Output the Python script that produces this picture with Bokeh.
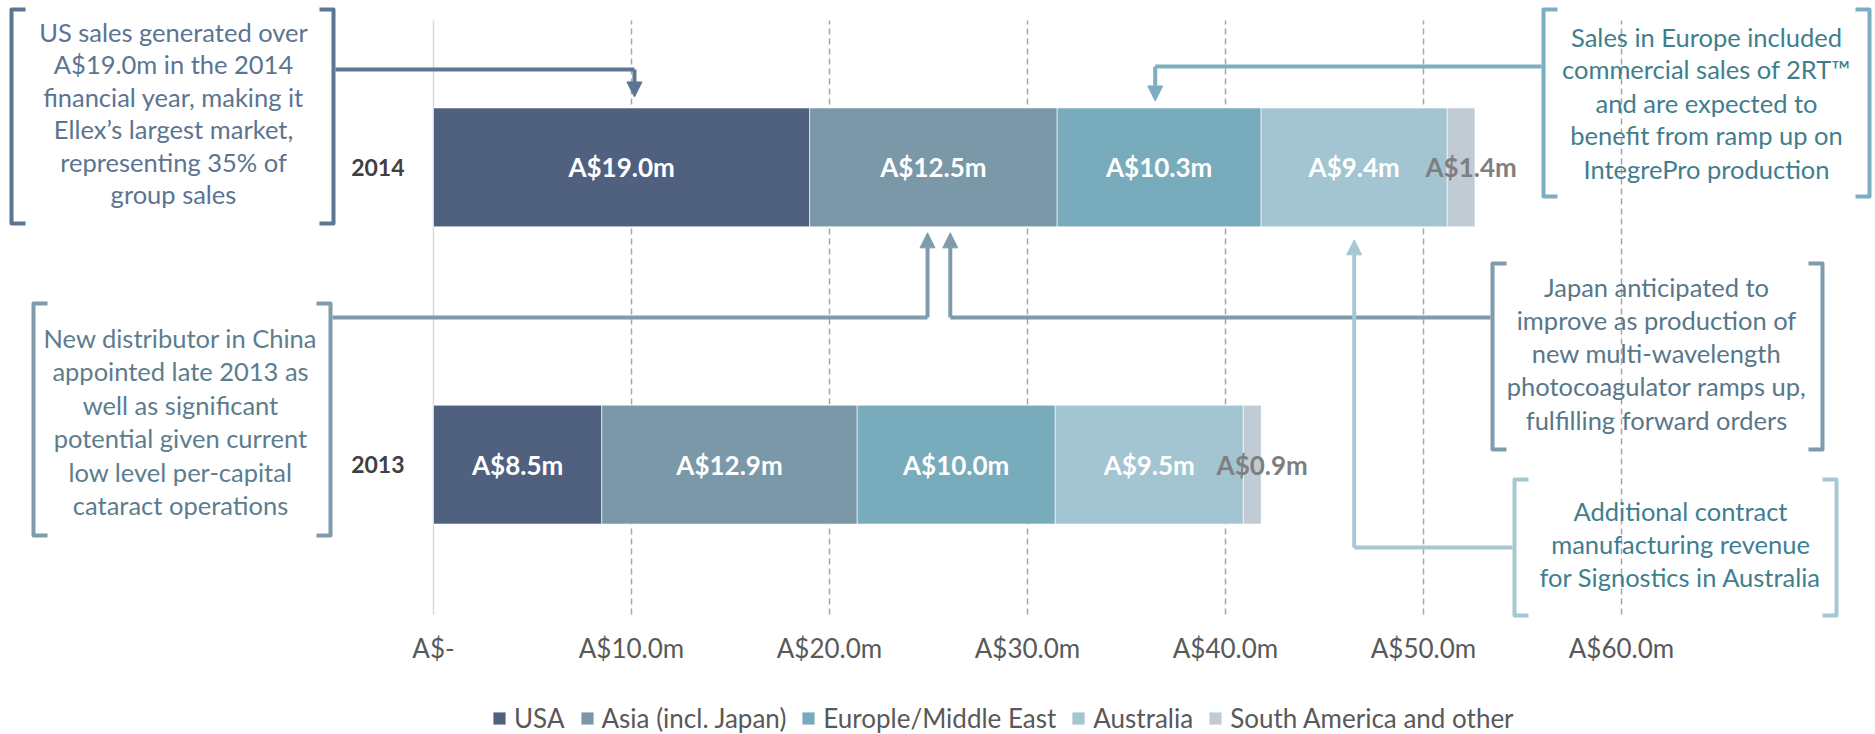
import numpy as np
from bokeh.plotting import figure
from bokeh.layouts import column
from bokeh.models import (ColumnDataSource, FactorRange, Range1d, FixedTicker,
                          Legend, LegendItem, Arrow, NormalHead)
from bokeh.core.properties import value
from bokeh.embed import file_html
from bokeh.resources import INLINE

# ---------------- data ----------------
years = ["2013", "2014"]
regions = ["USA", "Asia (incl. Japan)", "Europle/Middle East", "Australia",
           "South America and other"]
usa = [8.5, 19.0]
asia = [12.9, 12.5]
europe = [10.0, 10.3]
australia = [9.5, 9.4]
south_america = [0.9, 1.4]
region_colors = ["#506180", "#7B98A9", "#78ABBC", "#A3C5D1", "#C0CBD4"]
tick_values = [0, 10, 20, 30, 40, 50, 60]
tick_labels = ["A$-", "A$10.0m", "A$20.0m", "A$30.0m", "A$40.0m", "A$50.0m", "A$60.0m"]

note_us = ["US sales generated over", "A$19.0m in the 2014", "financial year, making it",
           "Ellex\u2019s largest market,", "representing 35% of", "group sales"]
note_europe = ["Sales in Europe included", "commercial sales of 2RT\u2122",
               "and are expected to", "benefit from ramp up on", "IntegrePro production"]
note_china = ["New distributor in China", "appointed late 2013 as", "well as significant",
              "potential given current", "low level per-capital", "cataract operations"]
note_japan = ["Japan anticipated to", "improve as production of", "new multi-wavelength",
              "photocoagulator ramps up,", "fulfilling forward orders"]
note_australia = ["Additional contract", "manufacturing revenue",
                  "for Signostics in Australia"]

# ---------------- layout ----------------
W = 1875
PAD = 0.0616
FRAME_H = 631
MAIN_BOTTOM = 63
LEG_H = 40
Y_END = 2 + PAD
Y_SCALE = FRAME_H / (2 + 2 * PAD)
X0_PX = 433.0
X_SCALE = 19.8
x_start = -X0_PX / X_SCALE
x_end = x_start + W / X_SCALE
FONT = "Lato"


def sx(px):
    return (px - X0_PX) / X_SCALE


def sy(py):
    return Y_END - py / Y_SCALE


p = figure(frame_width=W, frame_height=FRAME_H,
           y_range=FactorRange(factors=years, range_padding=PAD, range_padding_units="absolute"),
           x_range=Range1d(x_start, x_end),
           output_backend="svg", toolbar_location=None, y_axis_location=None,
           min_border_left=0, min_border_right=0, min_border_top=0,
           min_border_bottom=MAIN_BOTTOM)
p.outline_line_color = None
p.xgrid.visible = False
p.ygrid.visible = False

# gridlines
g_top, g_bot = sy(20), sy(614)
p.segment(x0=tick_values[1:], y0=[g_bot] * 6, x1=tick_values[1:], y1=[g_top] * 6,
          line_color="#A6A6A6", line_width=1.5, line_dash="6 4")
p.segment(x0=tick_values[:1], y0=[g_bot], x1=tick_values[:1], y1=[g_top],
          line_color="#D9D9D9", line_width=1.5)

# bars
source = ColumnDataSource(dict(years=years, usa=usa, asia=asia, europe=europe,
                               australia=australia, south_america=south_america))
stackers = ["usa", "asia", "europe", "australia", "south_america"]
renderers = p.hbar_stack(stackers, y="years", height=0.4, fill_color=region_colors,
                         line_color="white", line_width=1, line_alpha=0.6, source=source)

# bar labels
arr = np.array([usa, asia, europe, australia, south_america])
mids = np.cumsum(arr, axis=0) - arr / 2
lx, ly, lt, lc, ldx = [], [], [], [], []
for i in range(arr.shape[0]):
    for j, yr in enumerate(years):
        lx.append(float(mids[i, j]))
        ly.append(yr)
        lt.append("A$%.1fm" % arr[i, j])
        lc.append("white" if i < 4 else "#7F7F7F")
        ldx.append(0 if i < 4 else 10)
lab_src = ColumnDataSource(dict(x=lx, y=ly, text=lt, color=lc, dx=ldx))
p.text(x="x", y="y", text="text", source=lab_src, text_color="color", x_offset="dx",
       text_font=value(FONT), text_font_style="bold", text_font_size="26px",
       text_align="center", text_baseline="middle")

# year labels
p.text(x=[0, 0], y=years, text=years, x_offset=-29, text_align="right",
       text_baseline="middle", text_font=value(FONT), text_font_style="bold",
       text_font_size="23px", text_color="#404040")


def bracket(left, top, right, bottom, color, serif=14):
    xs = [[sx(left + serif), sx(left), sx(left), sx(left + serif)],
          [sx(right - serif), sx(right), sx(right), sx(right - serif)]]
    ys = [[sy(top), sy(top), sy(bottom), sy(bottom)]] * 2
    p.multi_line(xs=xs, ys=ys, line_color=color, line_width=4, line_join="round")


def note(lines, cx, y0, dy, color):
    n = len(lines)
    p.text(x=[sx(cx)] * n, y=[sy(y0 + k * dy) for k in range(n)], text=lines,
           text_font=value(FONT), text_font_size="25.5px", text_color=color,
           text_align="center", text_baseline="middle")


def connector(x_from, y_px, x_data, tip_y, color):
    ys = sy(y_px)
    p.line(x=[sx(x_from), x_data], y=[ys, ys], line_color=color, line_width=4,
           line_join="round")
    p.add_layout(Arrow(end=NormalHead(size=15, fill_color=color, line_color=color, line_width=1),
                       x_start=x_data, y_start=ys, x_end=x_data, y_end=tip_y,
                       line_color=color, line_width=4))


c_us, t_us = "#5B7592", "#5B7491"
c_eu, t_eu = "#7BAFC0", "#3F7E8E"
c_cn, t_cn = "#7F9CAC", "#5C7D8E"
c_jp, t_jp = "#7F9CAC", "#587789"
c_au, t_au = "#A5C8D3", "#3F7E8E"

top_2014 = 1.5 + 0.2
bot_2014 = 1.5 - 0.2

bracket(11, 9, 333, 223, c_us)
note(note_us, 173, 31, 32.6, t_us)
connector(335, 69, 10.15, top_2014 + 11 / Y_SCALE, c_us)

bracket(1543, 9, 1869, 196, c_eu)
note(note_europe, 1706, 36, 33, t_eu)
connector(1541, 66, 36.45, top_2014 + 7 / Y_SCALE, c_eu)

bracket(33, 303, 330, 535, c_cn)
note(note_china, 180, 337, 33.5, t_cn)
connector(332, 317, 24.95, bot_2014 - 6 / Y_SCALE, c_cn)

bracket(1492, 263, 1822, 449, c_jp)
note(note_japan, 1656, 286, 33.3, t_jp)
connector(1490, 317, 26.1, bot_2014 - 6 / Y_SCALE, c_jp)

bracket(1514, 479, 1836, 615, c_au)
note(note_australia, 1680, 510, 33.3, t_au)
connector(1512, 547, 46.5, bot_2014 - 13 / Y_SCALE, c_au)

# x axis
ax = p.xaxis[0]
ax.ticker = FixedTicker(ticks=tick_values)
ax.major_label_overrides = {v: l for v, l in zip(tick_values, tick_labels)}
ax.axis_line_color = None
ax.major_tick_line_color = None
ax.minor_tick_line_color = None
ax.major_label_standoff = -6
ax.major_label_text_font = FONT
ax.major_label_text_font_size = "26px"
ax.major_label_text_color = "#595959"

# legend strip (a second figure under the chart); its swatch renderers sit off-view
lf = figure(frame_width=W, frame_height=LEG_H, x_range=Range1d(0, 1), y_range=Range1d(0, 1),
            output_backend="svg", toolbar_location=None, x_axis_location=None,
            y_axis_location=None, min_border=0)
lf.outline_line_color = None
lf.xgrid.visible = False
lf.ygrid.visible = False
swatch_src = ColumnDataSource(dict(y=[-10.0], left=[-10.0], right=[-9.0]))
leg_renderers = [lf.hbar(y="y", left="left", right="right", height=0.4, source=swatch_src,
                         fill_color=c, line_color="white", line_alpha=0.6)
                 for c in region_colors]
items = [LegendItem(label=name, renderers=[r]) for name, r in zip(regions, leg_renderers)]
legend = Legend(items=items, orientation="horizontal", location=(491, 0), margin=0,
                padding=0, spacing=14, label_standoff=7, glyph_width=16, glyph_height=16,
                label_text_font=FONT, label_text_font_size="26px",
                label_text_color="#595959", border_line_color=None,
                background_fill_alpha=0)
lf.add_layout(legend)

layout = column(p, lf, spacing=0)
open("out.html", "w").write(file_html(layout, INLINE, title="Ellex sales by region"))
